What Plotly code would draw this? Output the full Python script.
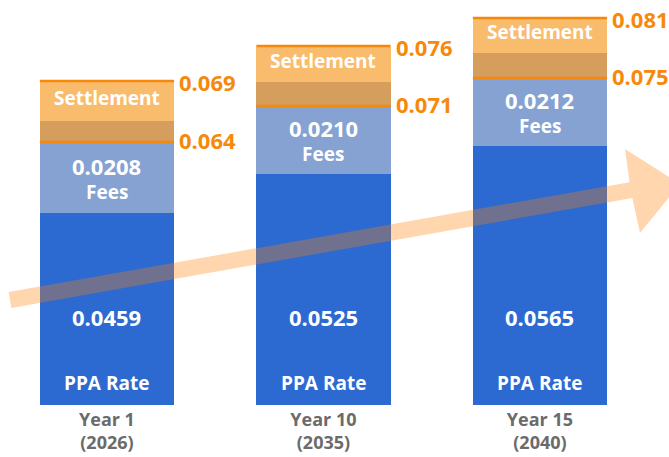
import plotly.graph_objects as go

# ---- data -------------------------------------------------------------
categories = ["Year 1<br>(2026)", "Year 10<br>(2035)", "Year 15<br>(2040)"]
ppa_rate = [0.0459, 0.0525, 0.0565]
fees = [0.0208, 0.0210, 0.0212]
total_before_settlement = [0.064, 0.071, 0.075]
total_with_settlement = [0.069, 0.076, 0.081]

# drawn segment heights (visual units, the source graphic is not to scale)
ppa_height = [192, 231, 259]
fees_height = [71, 68, 68]
adjust_height = [21, 24, 25]
settlement_height = [39, 35, 34]

# ---- styles -----------------------------------------------------------
BLUE = "#2C6AD1"
FEES = "#85A2D2"
ADJ = "#D59E5C"
SETTLE = "#F9BB6C"
ORANGE = "#F7890A"
GRAY = "#6B6B6B"
FONT = "Open Sans"
W = 0.62
X_RANGE = [-0.494, 2.596]
Y_TOP = 405
PLOT_W = 669

xs = list(range(len(categories)))

fig = go.Figure()
for heights, color in [(ppa_height, BLUE), (fees_height, FEES),
                       (adjust_height, ADJ), (settlement_height, SETTLE)]:
    fig.add_trace(go.Bar(x=xs, y=heights, width=W, marker_color=color,
                         marker_line_width=0, hoverinfo="skip", showlegend=False))

white = dict(family=FONT, size=22, color="white", weight=700)
white_lbl = dict(family=FONT, size=19, color="white", weight=700)
orange = dict(family=FONT, size=22, color=ORANGE, weight=700)
ann = []
shapes = []
for i in xs:
    b_fees = ppa_height[i]
    b_adj = b_fees + fees_height[i]
    b_set = b_adj + adjust_height[i]
    top = b_set + settlement_height[i]
    ann += [
        dict(x=i, y=0, yshift=88, text=f"{ppa_rate[i]:.4f}", font=white, showarrow=False),
        dict(x=i, y=0, yshift=22, text="PPA Rate", font=white_lbl, showarrow=False),
        dict(x=i, y=b_fees + fees_height[i] / 2, yshift=12, text=f"{fees[i]:.4f}", font=white, showarrow=False),
        dict(x=i, y=b_fees + fees_height[i] / 2, yshift=-14, text="Fees", font=white_lbl, showarrow=False),
        dict(x=i, y=b_set + settlement_height[i] / 2, yshift=4, text="Settlement", font=white_lbl, showarrow=False),
        dict(x=i + W / 2, y=top, xanchor="left", xshift=3, yshift=0,
             text=f"{total_with_settlement[i]:.3f}", font=orange, showarrow=False),
        dict(x=i + W / 2, y=b_adj, xanchor="left", xshift=3, yshift=2,
             text=f"{total_before_settlement[i]:.3f}", font=orange, showarrow=False),
    ]
    for yy in (top + 1, b_adj):
        shapes.append(dict(type="line", xref="x", yref="y", x0=i - W / 2, x1=i + W / 2,
                           y0=yy, y1=yy, line=dict(color=ORANGE, width=2.5)))


# decorative trend arrow (window pixel positions converted to axis units)
def px(xp, yp):
    ux = X_RANGE[0] + xp * (X_RANGE[1] - X_RANGE[0]) / PLOT_W
    return f"{ux:.4f},{Y_TOP - yp:.2f}"


arrow_pts = [(8.6, 292.1), (629.6, 182.2), (625, 149), (680, 184),
             (640, 233), (632.4, 198.0), (11.4, 307.9)]
path = "M " + " L ".join(px(a, b) for a, b in arrow_pts) + " Z"
shapes.append(dict(type="path", xref="x", yref="y", path=path,
                   fillcolor="rgba(255,128,0,0.32)", line=dict(width=0), layer="above"))

fig.update_layout(
    width=669, height=457,
    margin=dict(l=0, r=0, t=0, b=52),
    barmode="stack", bargap=0,
    plot_bgcolor="white", paper_bgcolor="white",
    annotations=ann, shapes=shapes,
    xaxis=dict(range=X_RANGE, tickmode="array", tickvals=xs, ticktext=categories,
               showgrid=False, zeroline=False, showline=False, ticks="",
               ticklabelstandoff=2, automargin=False,
               tickfont=dict(family=FONT, size=18, color=GRAY, weight=700)),
    yaxis=dict(range=[0, Y_TOP], visible=False, showgrid=False, zeroline=False,
               automargin=False),
)

fig.write_html("out.html", config={"displayModeBar": False},
               post_script="document.body.style.margin='0';document.body.style.overflow='hidden';")
